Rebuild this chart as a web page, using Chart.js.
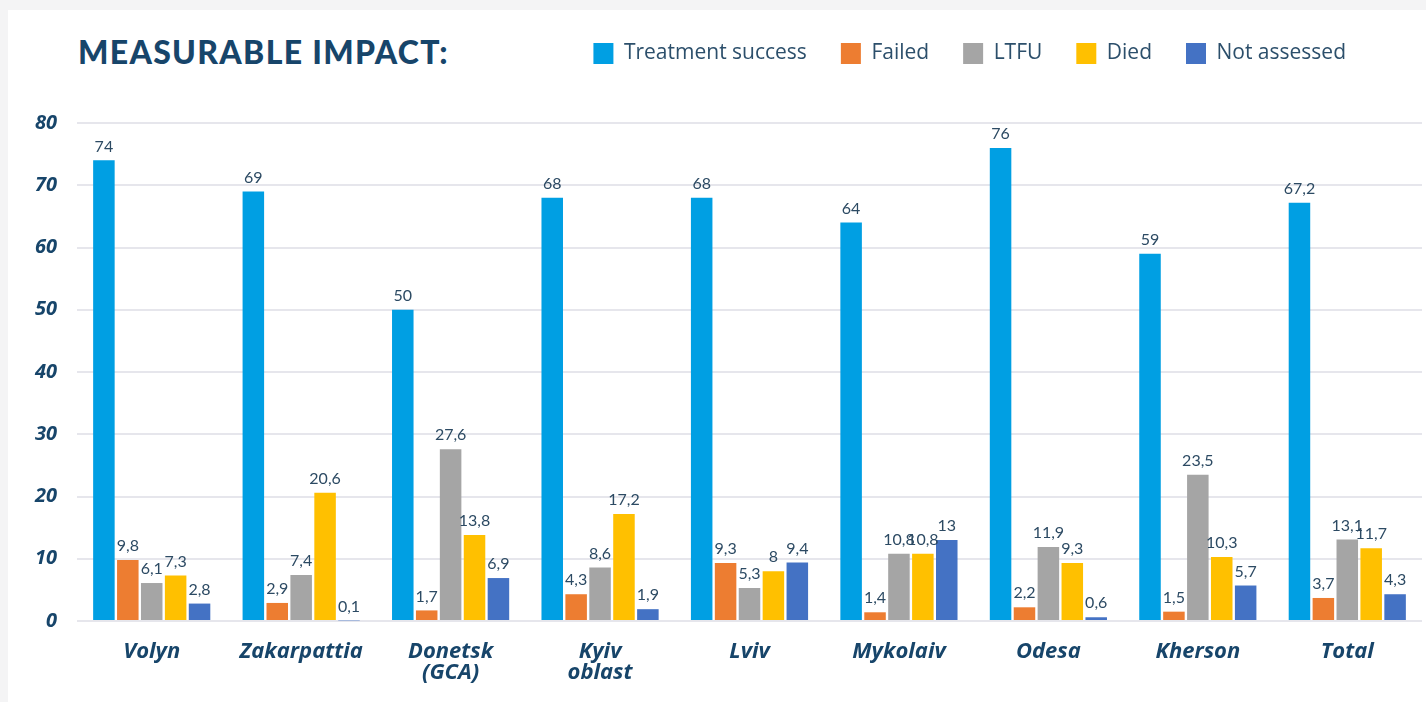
<!DOCTYPE html>
<html>
<head>
<meta charset="utf-8">
<title>Measurable impact</title>
<script src="https://cdn.jsdelivr.net/npm/chart.js@4"></script>
<style>
  html, body { margin: 0; padding: 0; background: #f4f4f5; }
  .card {
    position: absolute; left: 8px; top: 10px;
    width: 1418px; height: 692px; background: #fff;
  }
  .title {
    position: absolute; left: 70px; top: 22px; margin: 0;
    font-family: "Lato", sans-serif; font-weight: 900; font-size: 32px;
    letter-spacing: 1.3px; color: #17456a; line-height: 40px;
  }
  #chart { position: absolute; left: 0; top: 0; }
</style>
</head>
<body>
<div class="card">
  <h1 class="title">MEASURABLE IMPACT:</h1>
  <canvas id="chart" width="1418" height="692"></canvas>
</div>
<script>
// categories and series
const regions = ["Volyn", "Zakarpattia", ["Donetsk", "(GCA)"], ["Kyiv", "oblast"], "Lviv", "Mykolaiv", "Odesa", "Kherson", "Total"];
const treatmentSuccess = [74, 69, 50, 68, 68, 64, 76, 59, 67.2];
const failed = [9.8, 2.9, 1.7, 4.3, 9.3, 1.4, 2.2, 1.5, 3.7];
const ltfu = [6.1, 7.4, 27.6, 8.6, 5.3, 10.8, 11.9, 23.5, 13.1];
const died = [7.3, 20.6, 13.8, 17.2, 8, 10.8, 9.3, 10.3, 11.7];
const notAssessed = [2.8, 0.1, 6.9, 1.9, 9.4, 13, 0.6, 5.7, 4.3];
const yTicks = [0, 10, 20, 30, 40, 50, 60, 70, 80];

const navy = "#17456a";
const fmt = v => String(v).replace(".", ",");

// values above each bar (no datalabels plugin available offline)
const barLabels = {
  id: "barLabels",
  afterDatasetsDraw(chart) {
    const ctx = chart.ctx;
    ctx.save();
    ctx.font = "16px 'Lato', sans-serif";
    ctx.fillStyle = "#2c4a63";
    ctx.textAlign = "center";
    ctx.textBaseline = "bottom";
    chart.data.datasets.forEach((ds, i) => {
      chart.getDatasetMeta(i).data.forEach((bar, j) => {
        ctx.fillText(fmt(ds.data[j]), bar.x, bar.y - 6);
      });
    });
    ctx.restore();
  }
};

// push the plot down under the legend and pull the legend in from the right edge
const legendSpacing = {
  id: "legendSpacing",
  beforeInit(chart) {
    const fit = chart.legend.fit;
    chart.legend.fit = function () {
      fit.call(this);
      this.height += 44;
    };
  },
  afterLayout(chart) {
    chart.legend.right -= 42;
    chart.legend.top -= 5;
  }
};

new Chart(document.getElementById("chart"), {
  type: "bar",
  data: {
    labels: regions,
    datasets: [
      { label: "Treatment success", data: treatmentSuccess, backgroundColor: "#009fe3" },
      { label: "Failed", data: failed, backgroundColor: "#ed7d31" },
      { label: "LTFU", data: ltfu, backgroundColor: "#a5a5a5" },
      { label: "Died", data: died, backgroundColor: "#ffc000" },
      { label: "Not assessed", data: notAssessed, backgroundColor: "#4472c4" }
    ]
  },
  options: {
    responsive: false,
    animation: false,
    layout: { padding: { top: 4, right: 4, left: 0, bottom: 0 } },
    datasets: { bar: { categoryPercentage: 0.8, barPercentage: 0.9 } },
    plugins: {
      tooltip: { enabled: false },
      legend: {
        position: "top",
        align: "end",
        labels: {
          boxWidth: 20,
          boxHeight: 21,
          padding: 34,
          color: "#2c4f6b",
          font: { family: "'Open Sans', sans-serif", size: 21 }
        }
      }
    },
    scales: {
      x: {
        grid: { display: false },
        border: { display: false },
        ticks: {
          color: navy,
          padding: 13,
          maxRotation: 0,
          autoSkip: false,
          font: { family: "'Open Sans', sans-serif", size: 22, weight: "bold", style: "italic", lineHeight: 0.92 }
        },
        afterFit(scale) { scale.height = 81; }
      },
      y: {
        min: 0,
        max: 80,
        afterBuildTicks(scale) { scale.ticks = yTicks.map(v => ({ value: v })); },
        grid: { color: "#e6e6ec", lineWidth: 2, drawTicks: false },
        border: { display: false },
        ticks: {
          color: navy,
          padding: 20,
          font: { family: "'Open Sans', sans-serif", size: 20, weight: "bold", style: "italic" }
        },
        afterFit(scale) { scale.width = 69; }
      }
    }
  },
  plugins: [barLabels, legendSpacing]
});
</script>
</body>
</html>
